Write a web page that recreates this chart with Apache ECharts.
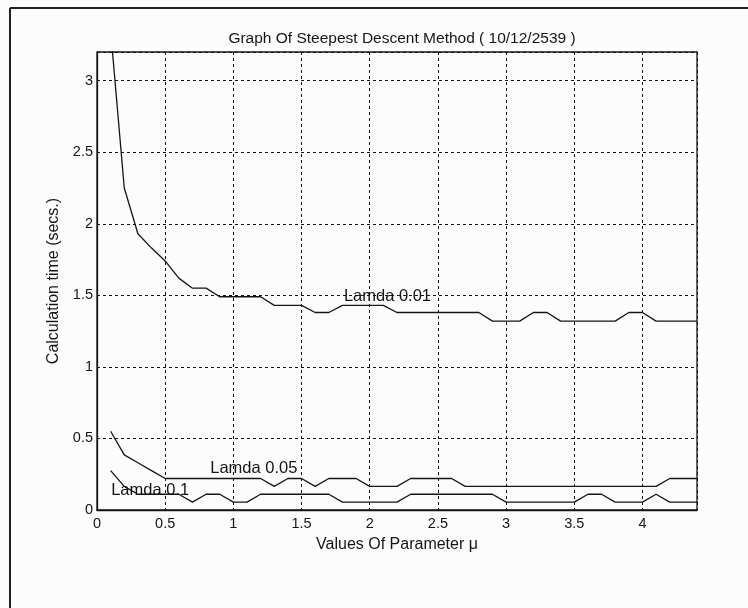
<!DOCTYPE html>
<html>
<head>
<meta charset="utf-8">
<script src="https://cdn.jsdelivr.net/npm/echarts@6/dist/echarts.min.js"></script>
<style>
html,body{margin:0;padding:0;background:#fcfcfc;}
#chart{width:748px;height:608px;}
</style>
</head>
<body>
<div id="chart"></div>
<script>
var titleText = 'Graph Of Steepest Descent Method ( 10/12/2539 )';
var xName = 'Values Of Parameter \u03bc';
var yName = 'Calculation time (secs.)';
var muValues = [0.1,0.2,0.3,0.4,0.5,0.6,0.7,0.8,0.9,1.0,
                1.1,1.2,1.3,1.4,1.5,1.6,1.7,1.8,1.9,2.0,
                2.1,2.2,2.3,2.4,2.5,2.6,2.7,2.8,2.9,3.0,
                3.1,3.2,3.3,3.4,3.5,3.6,3.7,3.8,3.9,4.0,
                4.1,4.2,4.3,4.4];
var lamda001 = [3.35,2.25,1.93,1.83,1.74,1.62,1.55,1.55,1.49,1.49,
                1.49,1.49,1.43,1.43,1.43,1.38,1.38,1.43,1.43,1.43,
                1.43,1.38,1.38,1.38,1.38,1.38,1.38,1.38,1.32,1.32,
                1.32,1.38,1.38,1.32,1.32,1.32,1.32,1.32,1.38,1.38,
                1.32,1.32,1.32,1.32];
var lamda005 = [0.55,0.385,0.33,0.275,0.22,0.22,0.22,0.22,0.22,0.22,
                0.22,0.22,0.165,0.22,0.22,0.165,0.22,0.22,0.22,0.165,
                0.165,0.165,0.22,0.22,0.22,0.22,0.165,0.165,0.165,0.165,
                0.165,0.165,0.165,0.165,0.165,0.165,0.165,0.165,0.165,0.165,
                0.165,0.22,0.22,0.22];
var lamda01 = [0.275,0.165,0.11,0.11,0.11,0.11,0.055,0.11,0.11,0.055,
               0.055,0.11,0.11,0.11,0.11,0.11,0.11,0.055,0.055,0.055,
               0.055,0.055,0.11,0.11,0.11,0.11,0.11,0.11,0.11,0.055,
               0.055,0.055,0.055,0.055,0.055,0.11,0.11,0.055,0.055,0.055,
               0.11,0.055,0.055,0.055];
var seriesNames = ['Lamda 0.01','Lamda 0.05','Lamda 0.1'];
var labelAnchors = [[2.13,1.49],[1.15,0.287],[0.39,0.136]];

function pairs(ys){ return ys.map(function(v,i){ return [muValues[i], v]; }); }

var font = '"Liberation Sans", Arial, Helvetica, sans-serif';
var ink = '#151515';
var allY = [lamda001, lamda005, lamda01];
var series = allY.map(function(ys, k){
  return {
    name: seriesNames[k],
    type: 'line',
    data: pairs(ys),
    showSymbol: false,
    symbol: 'none',
    lineStyle: {color: ink, width: 1.3},
    clip: true,
    animation: false,
    markPoint: {
      symbol: 'circle', symbolSize: 0,
      animation: false,
      data: [{coord: labelAnchors[k], value: seriesNames[k]}],
      label: {show: true, position: 'inside', formatter: seriesNames[k],
              color: ink, fontSize: 16.5, fontFamily: font}
    }
  };
});

var chart = echarts.init(document.getElementById('chart'), null, {renderer: 'canvas'});
chart.setOption({
  backgroundColor: '#fcfcfc',
  animation: false,
  title: {text: titleText, left: 397, textAlign: 'center', top: 26,
          textStyle: {fontSize: 15.5, fontWeight: 'normal', color: ink, fontFamily: font}},
  grid: {left: 97, right: 51, top: 52, bottom: 98, show: true,
         borderColor: ink, borderWidth: 1.3, backgroundColor: 'transparent'},
  xAxis: {
    type: 'value', min: 0, max: 4.4, interval: 0.5,
    name: xName, nameLocation: 'middle', nameGap: 27,
    nameTextStyle: {fontSize: 16, color: ink, fontFamily: font},
    axisLine: {show: true, lineStyle: {color: ink, width: 1.3}},
    axisTick: {show: false},
    axisLabel: {showMaxLabel: false, margin: 6, fontSize: 14.5, color: ink, fontFamily: font},
    splitLine: {show: true, lineStyle: {color: ink, type: [3,3], width: 1}}
  },
  yAxis: {
    type: 'value', min: 0, max: 3.2, interval: 0.5,
    name: yName, nameLocation: 'middle', nameGap: 25,
    nameTextStyle: {fontSize: 16, color: ink, fontFamily: font},
    axisLine: {show: true, lineStyle: {color: ink, width: 1.3}},
    axisTick: {show: false},
    axisLabel: {showMaxLabel: false, margin: 4, fontSize: 14.5, color: ink, fontFamily: font},
    splitLine: {show: true, lineStyle: {color: ink, type: [3,3], width: 1}}
  },
  graphic: [
    {type: 'line', silent: true, shape: {x1: 10, y1: 8, x2: 748, y2: 8}, style: {stroke: '#222', lineWidth: 2}},
    {type: 'line', silent: true, shape: {x1: 10, y1: 8, x2: 10, y2: 608}, style: {stroke: '#222', lineWidth: 2}}
  ],
  series: series
});
</script>
</body>
</html>
